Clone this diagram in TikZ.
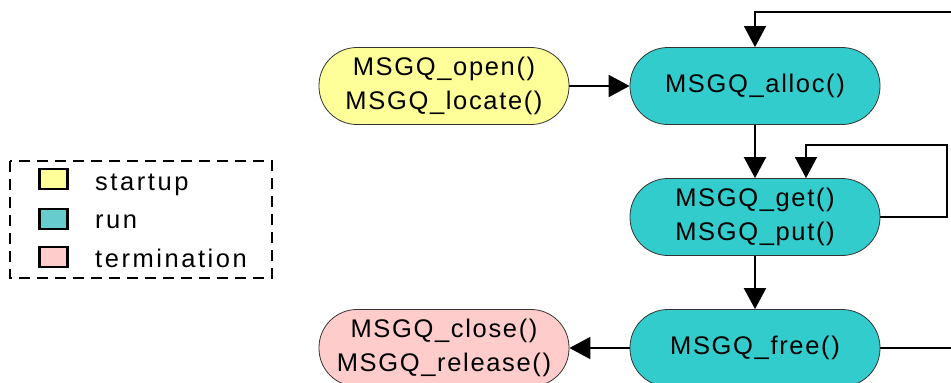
\documentclass[tikz,border=0pt]{standalone}
\usepackage{fontspec}
\setmainfont{Liberation Sans}[LetterSpace=6.5]
\newfontfamily\legfont{Liberation Sans}[LetterSpace=10]
\usetikzlibrary{arrows.meta}
\definecolor{runc}{HTML}{33CCCC}
\definecolor{startc}{HTML}{FFFF99}
\definecolor{termc}{HTML}{FFCCCC}
\definecolor{legrun}{HTML}{66CCCC}
\tikzset{
  proc/.style={draw=black!80, line width=0.8pt, rounded corners=38pt, minimum width=250pt, minimum height=77pt, align=center, inner sep=0pt, font=\fontsize{25.5}{34}\selectfont},
  runbox/.style={proc, fill=runc},
  startbox/.style={proc, fill=startc},
  termbox/.style={proc, fill=termc},
  flow/.style={line width=2pt, -{Triangle[length=21pt,width=22pt]}},
  loop/.style={line width=1.1pt, -{Triangle[length=21pt,width=22pt]}},
  legsq/.style={draw=black, line width=2.2pt, minimum width=28pt, minimum height=20pt, inner sep=0pt},
  legtxt/.style={anchor=base west, inner sep=0pt, font=\legfont\fontsize{25.5}{30}\selectfont}
}
\begin{document}
\begin{tikzpicture}[x=1pt,y=-1pt]
\useasboundingbox (0,0) rectangle (951,383);
\begin{scope}
\clip (0,0) rectangle (951,383);
\node[startbox] (open) at (444,86) {MSGQ\_open()\\MSGQ\_locate()};
\node[runbox] (alloc) at (755,86) {MSGQ\_alloc()};
\node[runbox] (get) at (755,217) {MSGQ\_get()\\MSGQ\_put()};
\node[runbox] (free) at (755,348) {MSGQ\_free()};
\node[termbox] (close) at (444,348) {MSGQ\_close()\\MSGQ\_release()};

\draw[flow] (open) -- (alloc);
\draw[flow] (alloc) -- (get);
\draw[flow] (get) -- (free);
\draw[flow] (free) -- (close);

\coordinate (fA) at (975,12);
\draw[loop] (free.east) -| (fA) -- (alloc.north |- fA) -- (alloc.north);

\coordinate (gA) at (947,145);
\coordinate (gB) at (806,145);
\draw[loop] (get.east) -| (gA) -- (gB) -- (gB |- get.north);
\end{scope}

\draw[line width=1.5pt, dash pattern=on 11pt off 7pt] (10,161) rectangle (272,278);
\node[legsq, fill=startc] (s1) at (53.5,179) {};
\node[legsq, fill=legrun] (s2) at (53.5,219) {};
\node[legsq, fill=termc] (s3) at (53.5,257) {};
\node[legtxt] (t1) at (95,190) {startup};
\node[legtxt] (t2) at (95,228) {run};
\node[legtxt] (t3) at (95,267) {termination};
\end{tikzpicture}
\end{document}
